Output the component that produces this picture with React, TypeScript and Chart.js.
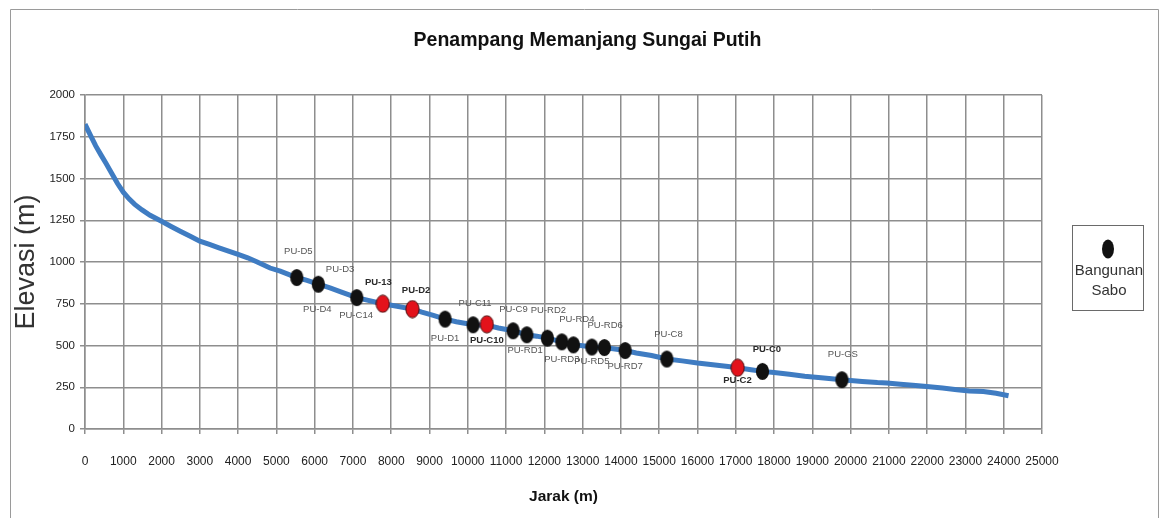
import React, { useEffect, useRef } from 'react';
import { Chart, registerables } from 'chart.js';

Chart.register(...registerables);

// ---- Data ----
const chartTitle = 'Penampang Memanjang Sungai Putih';
const xAxisTitle = 'Jarak (m)';
const yAxisTitle = 'Elevasi (m)';
const legendLines = ['Bangunan', 'Sabo'];

const xTickLabels = ['0', '1000', '2000', '3000', '4000', '5000', '6000', '7000', '8000', '9000', '10000', '11000', '12000', '13000', '14000', '15000', '16000', '17000', '18000', '19000', '20000', '21000', '22000', '23000', '24000', '25000'];
const yTickLabels = ['0', '250', '500', '750', '1000', '1250', '1500', '1750', '2000'];

const profileDistance = [0, 150, 280, 420, 540, 700, 850, 1000, 1150, 1300, 1490, 1700, 2000, 2250, 2500, 2750, 3000, 3250, 3500, 3750, 4000, 4250, 4500, 4834, 5100, 5532, 5800, 6096, 6400, 6700, 7100, 7400, 7779, 8150, 8553, 8800, 9100, 9407, 9700, 10138, 10497, 10800, 11184, 11542, 11800, 12080, 12456, 12759, 13000, 13240, 13569, 13800, 14110, 14400, 14800, 15200, 15600, 16000, 16400, 16800, 17050, 17400, 17698, 18000, 18400, 18800, 19300, 19773, 20300, 20700, 20950, 21300, 21700, 21990, 22400, 22780, 23100, 23470, 23800, 24126];
const profileElevation = [1825, 1755, 1695, 1640, 1594, 1530, 1470, 1418, 1378, 1345, 1312, 1280, 1244, 1213, 1183, 1154, 1125, 1105, 1085, 1065, 1045, 1025, 1000, 964, 945, 907, 890, 867, 845, 820, 787, 770, 750, 735, 718, 700, 680, 658, 642, 624, 622, 605, 588, 564, 556, 544, 522, 504, 498, 491, 486, 480, 470, 455, 440, 419, 408, 395, 385, 374, 367, 355, 345, 338, 328, 316, 305, 295, 285, 278, 275, 268, 260, 255, 245, 235, 228, 225, 214, 199];

// black structures (Bangunan Sabo)
const saboDistance = [5532, 6096, 7100, 9407, 10138, 11184, 11542, 12080, 12456, 12759, 13240, 13569, 14110, 15200, 17698, 19773];
const saboElevation = [907, 867, 787, 658, 624, 588, 564, 544, 522, 504, 491, 488, 470, 419, 345, 295];

// red structures
const redDistance = [7779, 8553, 10497, 17050];
const redElevation = [750, 718, 627, 367];

// structure names, anchored in data coordinates
const labelText = ['PU-D5', 'PU-D3', 'PU-D4', 'PU-C14', 'PU-13', 'PU-D2', 'PU-D1', 'PU-C11', 'PU-C10', 'PU-C9', 'PU-RD1', 'PU-RD2', 'PU-RD3', 'PU-RD4', 'PU-RD5', 'PU-RD6', 'PU-RD7', 'PU-C8', 'PU-C2', 'PU-C0', 'PU-GS'];
const labelDistance = [5573, 6663, 6070, 7081, 7664, 8649, 9407, 10191, 10497, 11192, 11497, 12106, 12456, 12848, 13240, 13588, 14110, 15242, 17045, 17813, 19799];
const labelElevation = [1063, 957, 718, 678, 877, 829, 544, 754, 530, 718, 470, 710, 419, 658, 404, 618, 375, 564, 291, 479, 445];
const labelBold = [false, false, false, false, true, true, false, false, true, false, false, false, false, false, false, false, false, false, true, true, false];

const SANS = '"Liberation Sans", Arial, sans-serif';

function makeDot(fill: string, stroke: string | null): HTMLCanvasElement {
  const c = document.createElement('canvas');
  c.width = 15;
  c.height = 19;
  const g = c.getContext('2d')!;
  g.beginPath();
  g.ellipse(7.5, 9.5, 6.6, 8.6, 0, 0, Math.PI * 2);
  g.fillStyle = fill;
  g.fill();
  if (stroke) {
    g.lineWidth = 1;
    g.strokeStyle = stroke;
    g.stroke();
  }
  return c;
}

export default function App() {
  const ref = useRef<HTMLCanvasElement>(null);

  useEffect(() => {
    document.body.style.margin = '0';
    const canvas = ref.current;
    if (!canvas) return;

    const blackDot = makeDot('#111111', null);
    const redDot = makeDot('#e3121b', '#4a0d0d');

    const framePlugin = {
      id: 'frame',
      beforeDraw(chart: any) {
        const { ctx, width, height } = chart;
        ctx.save();
        ctx.fillStyle = '#ffffff';
        ctx.fillRect(0, 0, width, height);
        ctx.strokeStyle = '#9a9a9a';
        ctx.lineWidth = 1;
        ctx.beginPath();
        ctx.moveTo(10.5, height + 2);
        ctx.lineTo(10.5, 9.5);
        ctx.lineTo(1158.5, 9.5);
        ctx.lineTo(1158.5, height + 2);
        ctx.stroke();
        ctx.restore();
      },
    };

    const labelsPlugin = {
      id: 'pointNames',
      afterDatasetsDraw(chart: any) {
        const { ctx, scales } = chart;
        const xs = scales.x;
        const ys = scales.y;
        ctx.save();
        ctx.textAlign = 'center';
        ctx.textBaseline = 'middle';
        labelText.forEach((t, i) => {
          const px = xs.getPixelForValue(labelDistance[i]);
          const py = ys.getPixelForValue(labelElevation[i]);
          if (labelBold[i]) {
            ctx.font = `bold 9.5px ${SANS}`;
            ctx.fillStyle = '#2a2a2a';
          } else {
            ctx.font = `9.5px ${SANS}`;
            ctx.fillStyle = '#555555';
          }
          ctx.fillText(t, px, py);
        });
        ctx.restore();
      },
    };

    const legendPlugin = {
      id: 'saboLegend',
      afterDraw(chart: any) {
        const { ctx } = chart;
        ctx.save();
        ctx.strokeStyle = '#6a6a6a';
        ctx.lineWidth = 1;
        ctx.strokeRect(1072.5, 225.5, 71, 85);
        ctx.fillStyle = '#111111';
        ctx.beginPath();
        ctx.ellipse(1108, 249, 6, 9.5, 0, 0, Math.PI * 2);
        ctx.fill();
        ctx.fillStyle = '#333333';
        ctx.font = `15px ${SANS}`;
        ctx.textAlign = 'center';
        ctx.textBaseline = 'middle';
        ctx.fillText(legendLines[0], 1109, 271);
        ctx.fillText(legendLines[1], 1109, 291);
        ctx.restore();
      },
    };

    const gridColor = '#8e8e8e';

    const chart = new Chart(canvas, {
      type: 'scatter',
      data: {
        datasets: [
          {
            label: 'Profil',
            data: profileDistance.map((d, i) => ({ x: d, y: profileElevation[i] })),
            showLine: true,
            borderColor: '#3f7cc2',
            borderWidth: 5,
            pointRadius: 0,
            tension: 0,
            order: 3,
          },
          {
            label: 'Bangunan Sabo',
            data: saboDistance.map((d, i) => ({ x: d, y: saboElevation[i] })),
            showLine: false,
            pointStyle: blackDot as any,
            pointRadius: 8,
            order: 2,
          },
          {
            label: 'Bangunan Sabo (merah)',
            data: redDistance.map((d, i) => ({ x: d, y: redElevation[i] })),
            showLine: false,
            pointStyle: redDot as any,
            pointRadius: 8,
            order: 1,
          },
        ],
      },
      options: {
        responsive: false,
        animation: false,
        devicePixelRatio: 1,
        layout: { padding: { left: 10, right: 0, top: 0, bottom: 0 } },
        plugins: {
          legend: { display: false },
          tooltip: { enabled: false },
          title: {
            display: true,
            text: chartTitle,
            color: '#111111',
            font: { family: SANS, size: 19.5, weight: 'bold' },
            padding: { top: 29.3, bottom: 42.3 },
          },
        },
        scales: {
          x: {
            type: 'linear',
            min: 0,
            max: 25000,
            afterFit: (s: any) => { s.height = 89; },
            afterBuildTicks: (s: any) => {
              s.ticks = xTickLabels.map((l) => ({ value: Number(l) }));
            },
            ticks: {
              autoSkip: false,
              maxRotation: 0,
              minRotation: 0,
              padding: 20,
              color: '#222222',
              font: { family: SANS, size: 12 },
              callback: (_v: any, idx: number) => xTickLabels[idx],
            },
            grid: { color: gridColor, lineWidth: 1.5, tickLength: 5, drawTicks: true, tickColor: gridColor },
            border: { display: true, color: gridColor, width: 1.5 },
            title: {
              display: true,
              text: xAxisTitle,
              color: '#111111',
              font: { family: SANS, size: 15.5, weight: 'bold' },
              padding: { top: 0, bottom: 12 },
            },
          },
          y: {
            type: 'linear',
            min: 0,
            max: 2000,
            afterFit: (s: any) => { s.width = 75; },
            afterBuildTicks: (s: any) => {
              s.ticks = yTickLabels.map((l) => ({ value: Number(l) }));
            },
            ticks: {
              padding: 5,
              color: '#222222',
              font: { family: SANS, size: 11.5 },
              callback: (_v: any, idx: number) => yTickLabels[idx],
            },
            grid: { color: gridColor, lineWidth: 1.5, tickLength: 5, drawTicks: true, tickColor: gridColor },
            border: { display: true, color: gridColor, width: 1.5 },
            title: {
              display: true,
              text: yAxisTitle,
              color: '#333333',
              font: { family: SANS, size: 27 },
              padding: { top: 0, bottom: 0 },
            },
          },
          side: {
            type: 'linear',
            position: 'right',
            display: true,
            min: 0,
            max: 1,
            afterFit: (s: any) => { s.width = 123; },
            grid: { display: false, drawTicks: false },
            border: { display: false },
            ticks: { display: false },
            title: { display: false },
          },
        },
      },
      plugins: [framePlugin, labelsPlugin, legendPlugin],
    });

    return () => chart.destroy();
  }, []);

  return (
    <div style={{ width: 1165, height: 518, position: 'relative' }}>
      <canvas ref={ref} width={1165} height={518} style={{ display: 'block' }} />
    </div>
  );
}
